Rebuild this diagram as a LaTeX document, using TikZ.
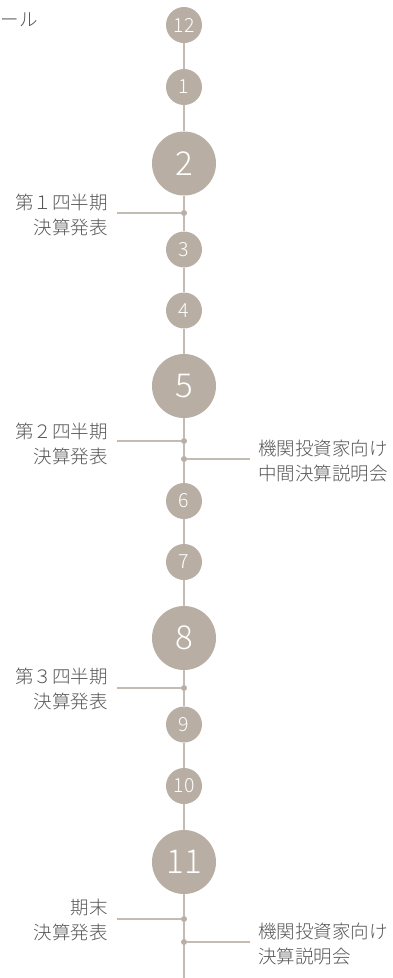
\documentclass[tikz,border=0pt]{standalone}
\usepackage{fontspec}
\setmainfont{Noto Sans CJK JP Light}
\definecolor{circ}{RGB}{184,174,164}
\definecolor{lin}{RGB}{196,187,179}
\definecolor{txt}{RGB}{85,85,85}
\begin{document}
\begin{tikzpicture}[x=1pt,y=-1pt,
 small/.style={circle,fill=circ,minimum size=36pt,inner sep=0pt,text=white,font=\fontsize{19.5}{19.5}\selectfont},
 big/.style={circle,fill=circ,minimum size=64pt,inner sep=0pt,text=white,font=\fontsize{33}{33}\selectfont},
 dotn/.style={circle,fill=circ,minimum size=6pt,inner sep=0pt},
 conn/.style={draw=lin,line width=2pt},
 hconn/.style={draw=lin,line width=1.3pt},
 lbl/.style={text=txt,font=\fontsize{18.5}{25}\selectfont,inner sep=0pt}]
\useasboundingbox (0,0) rectangle (393,978);
% months
\node[small] (c12) at (184,25) {12};
\node[small] (c1) at (184,87) {1};
\node[big] (c2) at (184,163.5) {2};
\node[dotn] (d1) at (184,213) {};
\node[small] (c3) at (184,249.5) {3};
\node[small] (c4) at (184,310.5) {4};
\node[big] (c5) at (184,386) {5};
\node[dotn] (d2a) at (184,441) {};
\node[dotn] (d2b) at (184,459) {};
\node[small] (c6) at (184,501) {6};
\node[small] (c7) at (184,562) {7};
\node[big] (c8) at (184,638) {8};
\node[dotn] (d3) at (184,688) {};
\node[small] (c9) at (184,724.5) {9};
\node[small] (c10) at (184,786) {10};
\node[big] (c11) at (184,862) {11};
\node[dotn] (d4a) at (184,919) {};
\node[dotn] (d4b) at (184,942) {};
\coordinate (end) at (184,978);
% spine
\draw[conn] (c12) -- (c1) -- (c2) -- (d1) -- (c3) -- (c4) -- (c5) -- (d2a) -- (d2b) -- (c6) -- (c7) -- (c8) -- (d3) -- (c9) -- (c10) -- (c11) -- (d4a) -- (d4b) -- (end);
% free ends
\coordinate (e1) at (117,213);
\coordinate (e2a) at (117,441);
\coordinate (e2b) at (250,459);
\coordinate (e3) at (117,688);
\coordinate (e4a) at (117,919);
\coordinate (e4b) at (250,942);
\draw[hconn] (d1) -- (e1);
\draw[hconn] (d2a) -- (e2a);
\draw[hconn] (d2b) -- (e2b);
\draw[hconn] (d3) -- (e3);
\draw[hconn] (d4a) -- (e4a);
\draw[hconn] (d4b) -- (e4b);
% labels
\node[lbl,anchor=east] (title) at (38,20) {ール};
\node[lbl,anchor=east,align=right] (l1) at (108,214.5) {第１四半期\\決算発表};
\node[lbl,anchor=east,align=right] (l2) at (108,443.5) {第２四半期\\決算発表};
\node[lbl,anchor=west,align=left] (r2) at (258,461) {機関投資家向け\\中間決算説明会};
\node[lbl,anchor=east,align=right] (l3) at (108,689) {第３四半期\\決算発表};
\node[lbl,anchor=east,align=right] (l4) at (108,920) {期末\\決算発表};
\node[lbl,anchor=west,align=left] (r4) at (258,943.5) {機関投資家向け\\決算説明会};
\end{tikzpicture}
\end{document}
